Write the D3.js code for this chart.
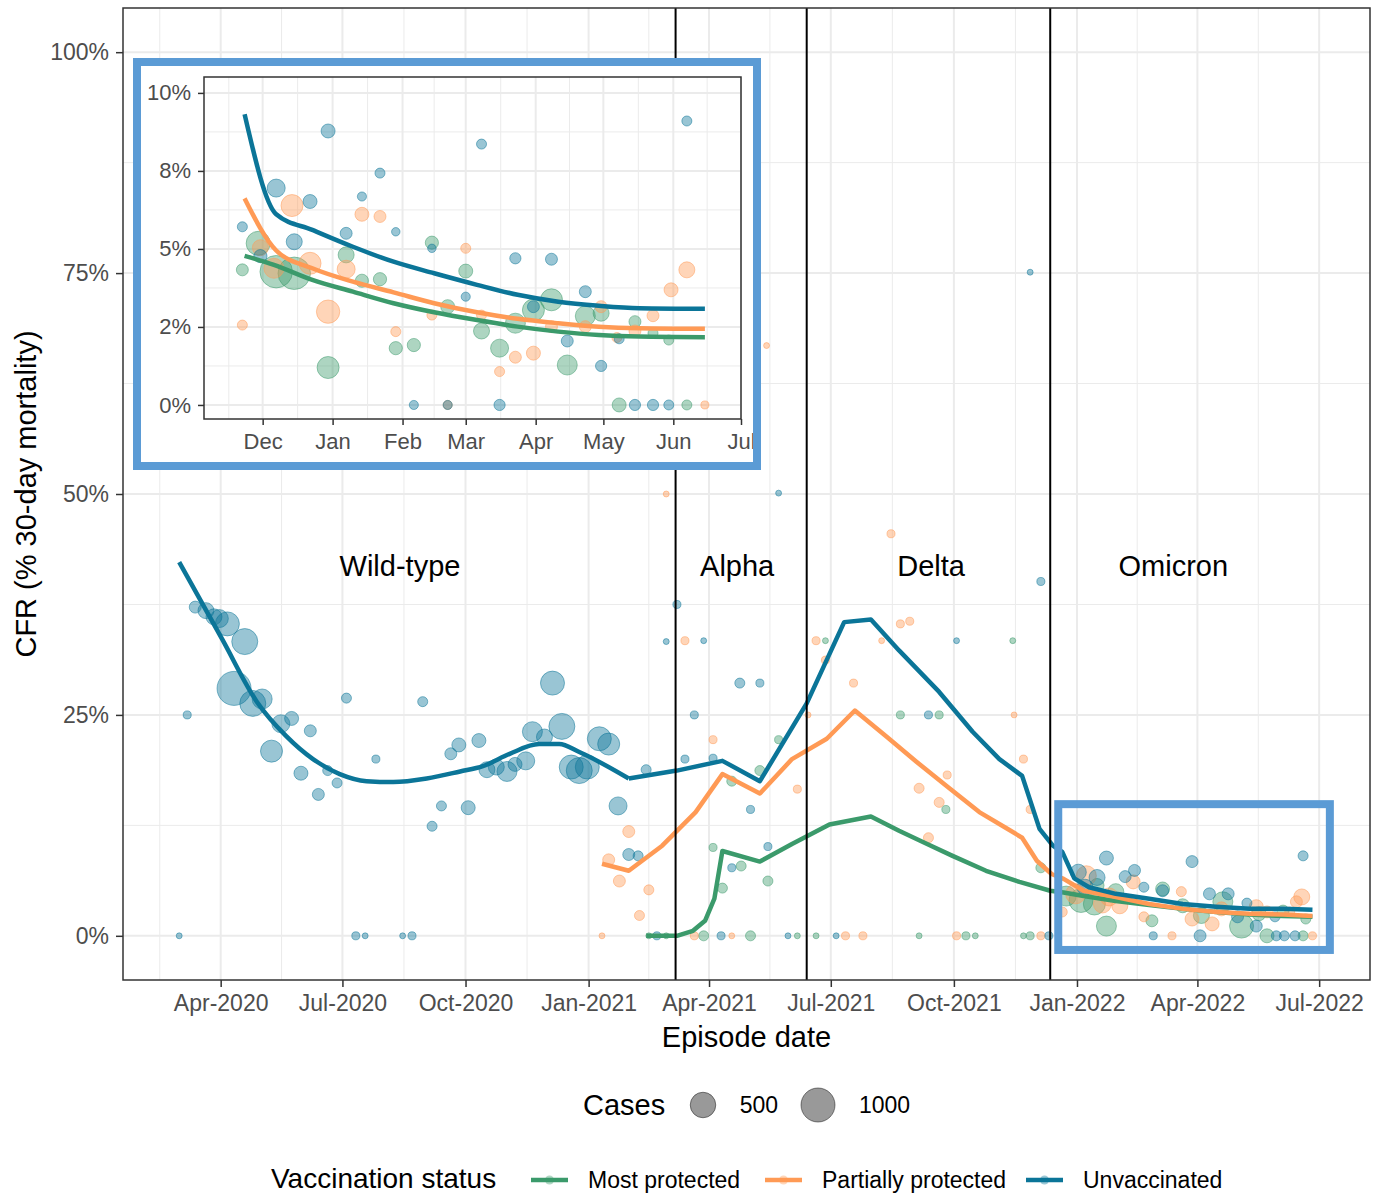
<!DOCTYPE html>
<html>
<head>
<meta charset="utf-8">
<script src="https://cdn.jsdelivr.net/npm/d3@7"></script>
<style>
  body { margin: 0; background: #fff; }
</style>
</head>
<body>
<script>
// ---- data ----
const statusNames = ['Most protected', 'Partially protected', 'Unvaccinated'];
const statusColors = ['#3b9a6b', '#ff9a55', '#0b7598'];

const variantNames = ['Wild-type', 'Alpha', 'Delta', 'Omicron'];
const variantLabelDates = ['2020-08-13', '2021-04-22', '2021-09-14', '2022-03-14'];
const variantLabelLevel = 41.9;
const variantStarts = ['2021-03-07', '2021-06-13', '2021-12-12'];

const mainXTicks = ['2020-04-01', '2020-07-01', '2020-10-01', '2021-01-01', '2021-04-01',
  '2021-07-01', '2021-10-01', '2022-01-01', '2022-04-01', '2022-07-01'];
const mainYTicks = [0, 25, 50, 75, 100];
const mainYTickLabels = ['0%', '25%', '50%', '75%', '100%'];

const insetXTicks = ['2021-12-01', '2022-01-01', '2022-02-01', '2022-03-01', '2022-04-01',
  '2022-05-01', '2022-06-01', '2022-07-01'];
const insetXTickLabels = ['Dec', 'Jan', 'Feb', 'Mar', 'Apr', 'May', 'Jun', 'Jul'];
const insetYTicks = [0, 2.5, 5, 7.5, 10];
const insetYTickLabels = ['0%', '2%', '5%', '8%', '10%'];

const caseLegendValues = [500, 1000];

// [episode date, CFR %, cases]
const mostPts = [
  ['2021-02-15', 0, 1], ['2021-02-28', 0, 1], ['2021-03-28', 0, 30], ['2021-04-04', 10.0, 11],
  ['2021-04-11', 5.4, 30], ['2021-04-18', 17.5, 30], ['2021-04-25', 7.9, 30], ['2021-05-02', 0, 30],
  ['2021-05-09', 18.7, 30], ['2021-05-15', 6.2, 30], ['2021-05-23', 22.2, 11], ['2021-06-06', 0, 1],
  ['2021-06-20', 0, 1], ['2021-06-27', 33.4, 1], ['2021-08-22', 25.0, 11], ['2021-09-05', 0, 1],
  ['2021-09-20', 25.0, 11], ['2021-09-25', 14.3, 11], ['2021-10-10', 0, 11], ['2021-10-17', 0, 1],
  ['2021-11-14', 33.4, 1], ['2021-11-22', 0, 1], ['2021-11-27', 0, 11], ['2021-12-05', 7.7, 30],
  ['2021-12-24', 4.5, 268], ['2022-01-04', 4.0, 429], ['2022-01-14', 3.6, 344], ['2022-01-16', 5.7, 96],
  ['2022-01-23', 1.1, 268], ['2022-01-30', 5.0, 144], ['2022-02-26', 1.7, 58], ['2022-03-06', 5.3, 96],
  ['2022-03-21', 3.4, 96], ['2022-04-04', 2.3, 144], ['2022-04-20', 3.85, 268], ['2022-05-04', 1.1, 429],
  ['2022-05-17', 2.5, 96], ['2022-05-23', 0, 96], ['2022-06-04', 2.8, 58], ['2022-06-19', 0, 30],
  ['2022-06-21', 1.9, 30]
];
const partialPts = [
  ['2021-01-11', 0, 1], ['2021-01-16', 8.6, 58], ['2021-01-24', 6.2, 58], ['2021-01-31', 11.8, 58],
  ['2021-02-08', 2.3, 30], ['2021-02-15', 5.2, 30], ['2021-02-28', 50.0, 1], ['2021-03-14', 33.4, 11],
  ['2021-03-21', 0, 11], ['2021-04-04', 22.2, 11], ['2021-04-18', 0, 1], ['2021-05-14', 66.8, 1],
  ['2021-06-06', 16.6, 11], ['2021-06-14', 25.0, 1], ['2021-06-20', 33.4, 11], ['2021-06-27', 31.2, 11],
  ['2021-07-12', 0, 11], ['2021-07-18', 28.6, 11], ['2021-07-25', 0, 11], ['2021-08-08', 33.4, 1],
  ['2021-08-15', 45.5, 11], ['2021-08-22', 35.3, 11], ['2021-08-29', 35.6, 11], ['2021-09-05', 16.7, 30],
  ['2021-09-12', 11.1, 30], ['2021-09-20', 15.1, 30], ['2021-09-26', 18.2, 11], ['2021-10-03', 0, 11],
  ['2021-11-15', 25.0, 1], ['2021-11-22', 20.0, 11], ['2021-11-27', 14.3, 11], ['2021-12-05', 0, 11],
  ['2021-12-21', 2.7, 30], ['2021-12-31', 4.75, 268], ['2022-01-08', 6.8, 268], ['2022-01-20', 3.6, 201],
  ['2022-01-25', 4.4, 201], ['2022-02-02', 3.4, 144], ['2022-02-12', 6.1, 96], ['2022-02-20', 2.15, 30],
  ['2022-03-13', 0, 11], ['2022-03-20', 5.0, 30], ['2022-03-28', 1.9, 96], ['2022-04-12', 1.35, 96],
  ['2022-04-19', 3.05, 96], ['2022-05-15', 3.3, 96], ['2022-05-23', 2.7, 58], ['2022-06-09', 2.7, 30],
  ['2022-06-14', 3.85, 58], ['2022-06-18', 4.4, 144], ['2022-06-26', 0, 11]
];
const unvaxPts = [
  ['2020-03-01', 0, 1], ['2020-03-07', 25.0, 11], ['2020-03-13', 37.2, 58], ['2020-03-21', 36.8, 144],
  ['2020-03-27', 36.1, 144], ['2020-03-31', 35.9, 201], ['2020-04-06', 35.3, 429], ['2020-04-19', 33.3, 524],
  ['2020-04-11', 28.0, 1000], ['2020-04-25', 26.3, 524], ['2020-05-02', 26.8, 268], ['2020-05-09', 20.9, 344],
  ['2020-05-16', 24.0, 201], ['2020-05-24', 24.6, 96], ['2020-06-07', 23.2, 58], ['2020-05-31', 18.4, 96],
  ['2020-06-20', 18.7, 30], ['2020-06-27', 17.3, 30], ['2020-06-13', 16.0, 58], ['2020-07-04', 26.9, 30],
  ['2020-07-26', 20.0, 11], ['2020-07-11', 0, 11], ['2020-07-18', 0, 1], ['2020-08-15', 0, 1],
  ['2020-08-22', 0, 11], ['2020-08-30', 26.5, 30], ['2020-09-13', 14.7, 30], ['2020-09-06', 12.4, 30],
  ['2020-09-20', 20.6, 58], ['2020-09-26', 21.6, 96], ['2020-10-11', 22.1, 96], ['2020-10-03', 14.5, 96],
  ['2020-10-17', 18.8, 144], ['2020-10-24', 19.1, 144], ['2020-11-01', 18.6, 268], ['2020-11-07', 19.4, 96],
  ['2020-11-15', 19.8, 201], ['2020-11-20', 23.1, 268], ['2020-11-29', 22.5, 144], ['2020-12-05', 28.6, 429],
  ['2020-12-12', 23.7, 524], ['2020-12-19', 19.1, 429], ['2020-12-25', 18.7, 524], ['2020-12-31', 19.1, 429],
  ['2021-01-09', 22.3, 429], ['2021-01-16', 21.7, 344], ['2021-01-23', 14.7, 201], ['2021-01-31', 9.2, 58],
  ['2021-02-07', 9.05, 30], ['2021-02-13', 18.8, 30], ['2021-02-21', 0, 11], ['2021-02-28', 33.3, 1],
  ['2021-03-08', 37.5, 11], ['2021-03-14', 20.0, 11], ['2021-03-21', 25.0, 11], ['2021-03-28', 33.4, 1],
  ['2021-04-04', 20.1, 11], ['2021-04-10', 0, 11], ['2021-04-18', 7.7, 11], ['2021-04-24', 28.6, 30],
  ['2021-05-02', 14.3, 11], ['2021-05-09', 28.6, 11], ['2021-05-15', 10.1, 11], ['2021-05-23', 50.1, 1],
  ['2021-05-30', 0, 1], ['2021-07-05', 0, 1], ['2021-09-12', 25.0, 11], ['2021-10-03', 33.4, 1],
  ['2021-11-27', 75.1, 1], ['2021-12-05', 40.1, 11], ['2021-12-11', 0, 11],
  ['2022-01-02', 7.2, 144], ['2022-01-07', 5.5, 144], ['2022-01-16', 6.6, 144], ['2022-01-23', 8.8, 96],
  ['2022-02-06', 6.7, 58], ['2022-02-13', 7.4, 58], ['2022-02-20', 5.5, 30], ['2022-02-27', 0, 11],
  ['2022-03-06', 5.1, 58], ['2022-03-28', 8.4, 58], ['2022-04-03', 0, 58], ['2022-04-10', 4.75, 58],
  ['2022-04-24', 4.75, 58], ['2022-05-01', 2.15, 58], ['2022-05-08', 3.7, 30], ['2022-05-15', 1.1, 58],
  ['2022-05-29', 2.15, 30], ['2022-05-30', 0, 30], ['2022-06-05', 0, 30], ['2022-06-13', 0, 30],
  ['2022-06-19', 9.05, 30]
];

// fitted lines [date, CFR %]
const mostLine = [
  ['2021-02-13', 0], ['2021-03-08', 0], ['2021-03-20', 0.57], ['2021-03-29', 1.7], ['2021-04-05', 4.2],
  ['2021-04-11', 9.6], ['2021-05-09', 8.4], ['2021-06-02', 10.4], ['2021-06-30', 12.6], ['2021-07-31', 13.5],
  ['2021-08-21', 11.9], ['2021-09-11', 10.4], ['2021-09-30', 9.05], ['2021-10-25', 7.36], ['2021-11-19', 6.1],
  ['2021-12-12', 5.1], ['2021-12-22', 4.9], ['2022-01-06', 4.5], ['2022-01-30', 3.95], ['2022-02-24', 3.5],
  ['2022-03-21', 3.05], ['2022-04-15', 2.7], ['2022-05-10', 2.4], ['2022-06-04', 2.25], ['2022-06-26', 2.15]
];
const partialLine = [
  ['2021-01-11', 8.15], ['2021-01-31', 7.36], ['2021-02-25', 10.2], ['2021-03-22', 14.0], ['2021-04-11', 18.3],
  ['2021-05-09', 16.1], ['2021-06-02', 20.0], ['2021-06-28', 22.3], ['2021-07-19', 25.5], ['2021-08-12', 22.5],
  ['2021-09-03', 19.7], ['2021-09-26', 16.9], ['2021-10-20', 14.0], ['2021-11-09', 12.2], ['2021-11-21', 11.1],
  ['2021-12-02', 8.5], ['2021-12-13', 7.0], ['2021-12-22', 6.45], ['2022-01-06', 5.1], ['2022-01-30', 4.4],
  ['2022-02-24', 3.6], ['2022-03-21', 3.05], ['2022-04-15', 2.7], ['2022-05-10', 2.5], ['2022-06-04', 2.4],
  ['2022-06-26', 2.25]
];
const unvaxLine = [
  ['2020-03-01', 42.3], ['2020-03-08', 40.4], ['2020-04-02', 33.6], ['2020-04-28', 26.5], ['2020-05-20', 22.6],
  ['2020-06-09', 20.0], ['2020-06-29', 18.3], ['2020-07-19', 17.5], ['2020-08-08', 17.4], ['2020-09-02', 17.8],
  ['2020-09-27', 18.6], ['2020-10-14', 19.2], ['2020-11-03', 20.6], ['2020-11-25', 21.7], ['2020-12-10', 21.7],
  ['2020-12-25', 20.8], ['2021-01-31', 17.8], ['2021-03-08', 18.7], ['2021-04-11', 19.8], ['2021-05-09', 17.5],
  ['2021-06-13', 26.3], ['2021-07-11', 35.5], ['2021-07-31', 35.8], ['2021-08-21', 32.3], ['2021-09-20', 27.6],
  ['2021-10-15', 23.1], ['2021-11-04', 20.0], ['2021-11-21', 18.1], ['2021-12-04', 12.1], ['2021-12-14', 10.2],
  ['2021-12-21', 9.5], ['2021-12-30', 6.5], ['2022-01-10', 5.5], ['2022-01-30', 4.75], ['2022-02-24', 4.2],
  ['2022-03-21', 3.6], ['2022-04-15', 3.3], ['2022-05-10', 3.05], ['2022-06-04', 3.05], ['2022-06-26', 2.95]
];
// the wild-type part of the unvaccinated fit is a smooth curve up to this date
const unvaxSmoothUntil = '2021-01-31';

// inset (Omicron period)
const insetMostPts = [
  ['2021-11-29', 5.18, 429], ['2021-11-22', 4.33, 58], ['2021-12-07', 4.27, 900], ['2021-12-15', 4.22, 900],
  ['2022-01-07', 4.81, 144], ['2022-01-14', 3.98, 80], ['2022-01-22', 4.03, 80], ['2021-12-30', 1.2, 344],
  ['2022-01-29', 1.82, 80], ['2022-02-06', 1.92, 80], ['2022-02-14', 5.2, 80], ['2022-02-21', 3.15, 96],
  ['2022-03-01', 4.29, 96], ['2022-03-08', 2.37, 144], ['2022-03-16', 1.82, 201], ['2022-03-23', 2.62, 268],
  ['2022-03-31', 3.04, 344], ['2022-04-08', 3.37, 344], ['2022-04-15', 1.28, 268], ['2022-04-23', 2.85, 268],
  ['2022-04-30', 2.94, 144], ['2022-05-15', 2.67, 58], ['2022-05-23', 2.3, 30], ['2022-05-30', 2.08, 30],
  ['2022-05-08', 0, 96], ['2022-06-07', 0, 30]
];
const insetPartialPts = [
  ['2021-12-14', 6.39, 344], ['2022-01-14', 6.11, 96], ['2022-01-22', 6.04, 58], ['2021-11-30', 5.04, 144],
  ['2021-12-22', 4.54, 344], ['2022-01-07', 4.35, 201], ['2021-12-06', 4.38, 268], ['2021-12-30', 2.99, 400],
  ['2021-11-22', 2.56, 30], ['2022-03-01', 5.02, 30], ['2022-02-14', 2.88, 30], ['2022-01-29', 2.35, 30],
  ['2022-03-08', 2.88, 30], ['2022-03-23', 1.53, 58], ['2022-03-31', 1.66, 96], ['2022-03-16', 1.07, 30],
  ['2022-04-08', 2.51, 58], ['2022-04-23', 2.51, 58], ['2022-04-30', 3.15, 58], ['2022-05-07', 2.16, 30],
  ['2022-05-15', 2.37, 58], ['2022-05-23', 2.86, 58], ['2022-05-31', 3.69, 96], ['2022-06-07', 4.33, 144],
  ['2022-06-15', 0, 11], ['2022-02-21', 0, 20]
];
const insetUnvaxPts = [
  ['2021-12-30', 8.78, 96], ['2022-03-08', 8.36, 30], ['2022-06-07', 9.1, 30], ['2022-01-22', 7.43, 30],
  ['2022-01-14', 6.68, 20], ['2021-12-22', 6.52, 96], ['2021-12-07', 6.95, 201], ['2021-11-22', 5.71, 30],
  ['2021-12-15', 5.23, 144], ['2022-01-07', 5.5, 58], ['2022-01-29', 5.55, 14], ['2021-11-30', 4.77, 80],
  ['2022-02-14', 5.02, 14], ['2022-03-23', 4.70, 46], ['2022-04-08', 4.67, 58], ['2022-03-01', 3.47, 20],
  ['2022-04-23', 3.63, 58], ['2022-03-31', 3.15, 58], ['2022-04-15', 2.05, 58], ['2022-05-08', 2.12, 30],
  ['2022-04-30', 1.25, 46], ['2022-02-06', 0, 20], ['2022-02-21', 0, 20], ['2022-03-16', 0, 46],
  ['2022-05-15', 0, 46], ['2022-05-23', 0, 46], ['2022-05-30', 0, 30]
];
const insetMostLine = [
  ['2021-11-23', 4.78], ['2021-12-06', 4.49], ['2021-12-23', 4.01], ['2022-01-10', 3.63], ['2022-01-28', 3.26],
  ['2022-02-15', 2.97], ['2022-03-06', 2.72], ['2022-03-24', 2.51], ['2022-04-11', 2.35], ['2022-04-29', 2.24],
  ['2022-05-17', 2.19], ['2022-06-15', 2.17]
];
const insetPartialLine = [
  ['2021-11-23', 6.62], ['2021-12-07', 4.95], ['2021-12-23', 4.38], ['2022-01-10', 3.95], ['2022-01-28', 3.61],
  ['2022-02-15', 3.26], ['2022-03-06', 2.97], ['2022-03-24', 2.76], ['2022-04-11', 2.62], ['2022-04-29', 2.51],
  ['2022-05-17', 2.46], ['2022-06-15', 2.44]
];
const insetUnvaxLine = [
  ['2021-11-23', 9.32], ['2021-12-07', 6.11], ['2021-12-23', 5.61], ['2022-01-10', 5.07], ['2022-01-28', 4.59],
  ['2022-02-15', 4.22], ['2022-03-06', 3.85], ['2022-03-24', 3.53], ['2022-04-11', 3.31], ['2022-04-29', 3.18],
  ['2022-05-17', 3.1], ['2022-06-15', 3.08]
];

// highlighted Omicron window in the main panel
const highlightDates = ['2021-12-18', '2022-07-09'];
const highlightLevels = [-1.6, 14.9];

// ---- layout ----
const FONT = '"Liberation Sans", Arial, sans-serif';
const width = 1380, height = 1194;
const boxBlue = '#5b9bd5';
const parse = d3.timeParse('%Y-%m-%d');
const main = {left: 123, right: 1370, top: 8, bottom: 980};
const ins = {left: 204, right: 741, top: 77, bottom: 419};

const x = d3.scaleTime()
  .domain([parse('2020-01-19'), parse('2022-08-08')])
  .range([main.left, main.right]);
const y = d3.scaleLinear().domain([-5, 105]).range([main.bottom, main.top]);
const r = d3.scaleSqrt().domain([0, 1000]).range([2.5, 17]);

const xi = d3.scaleTime()
  .domain([parse('2021-11-05'), parse('2022-07-01')])
  .range([ins.left, ins.right]);
const yi = d3.scaleLinear().domain([-0.45, 10.51]).range([ins.bottom, ins.top]);

const svg = d3.select('body').append('svg')
  .attr('width', width).attr('height', height)
  .style('font-family', FONT);

function midpoints(vals, before) {
  const out = [];
  const all = [before].concat(vals);
  for (let i = 1; i < all.length; i++) out.push((all[i - 1] + all[i]) / 2);
  return out;
}

function drawGrid(g, xs, ys, xMajor, xMinor, yMajor, yMinor, box) {
  const grid = g.append('g');
  const add = (vals, vertical, w) => grid.selectAll(null).data(vals).join('line')
    .attr('x1', d => vertical ? xs(d) : box.left)
    .attr('x2', d => vertical ? xs(d) : box.right)
    .attr('y1', d => vertical ? box.top : ys(d))
    .attr('y2', d => vertical ? box.bottom : ys(d))
    .attr('stroke', '#ebebeb').attr('stroke-width', w);
  add(xMinor, true, 1); add(yMinor, false, 1);
  add(xMajor, true, 2); add(yMajor, false, 2);
}

function drawPoints(g, pts, color, xs, ys) {
  g.append('g').selectAll('circle').data(pts).join('circle')
    .attr('cx', d => xs(parse(d[0])))
    .attr('cy', d => ys(d[1]))
    .attr('r', d => r(d[2]))
    .attr('fill', color).attr('fill-opacity', 0.42)
    .attr('stroke', color).attr('stroke-opacity', 0.5).attr('stroke-width', 1);
}

function drawLine(g, pts, color, xs, ys, curve) {
  const line = d3.line()
    .x(d => xs(parse(d[0])))
    .y(d => ys(d[1]))
    .curve(curve);
  g.append('path').datum(pts)
    .attr('d', line)
    .attr('fill', 'none')
    .attr('stroke', color)
    .attr('stroke-width', 4.5)
    .attr('stroke-linejoin', 'round');
}

function styleAxis(g, size) {
  g.attr('font-family', FONT).attr('font-size', size);
  g.select('.domain').remove();
  g.selectAll('.tick line').attr('stroke', '#333').attr('stroke-width', 1.5);
  g.selectAll('.tick text').attr('fill', '#4d4d4d');
}

// ---- main panel ----
const mainXMajor = mainXTicks.map(parse);
const mainXMinor = midpoints(mainXMajor.map(d => +d), +parse('2020-01-01')).map(v => new Date(v));
const mainYMinor = midpoints(mainYTicks, -25).filter(v => v > -5);
const $main = svg.append('g');
drawGrid($main, x, y, mainXMajor, mainXMinor, mainYTicks, mainYMinor, main);

const pointSets = [mostPts, partialPts, unvaxPts];
pointSets.forEach((pts, i) => drawPoints($main, pts, statusColors[i], x, y));

drawLine($main, mostLine, statusColors[0], x, y, d3.curveLinear);
drawLine($main, partialLine, statusColors[1], x, y, d3.curveLinear);
const cut = parse(unvaxSmoothUntil);
drawLine($main, unvaxLine.filter(d => parse(d[0]) <= cut), statusColors[2], x, y, d3.curveMonotoneX);
drawLine($main, unvaxLine.filter(d => parse(d[0]) >= cut), statusColors[2], x, y, d3.curveLinear);

$main.append('g').selectAll('line').data(variantStarts).join('line')
  .attr('x1', d => x(parse(d))).attr('x2', d => x(parse(d)))
  .attr('y1', main.top).attr('y2', main.bottom)
  .attr('stroke', '#000').attr('stroke-width', 2);

$main.append('g').selectAll('text').data(variantNames).join('text')
  .attr('x', (d, i) => x(parse(variantLabelDates[i])))
  .attr('y', y(variantLabelLevel) + 10)
  .attr('text-anchor', 'middle')
  .attr('font-size', 29)
  .attr('fill', '#000')
  .text(d => d);

$main.append('rect')
  .attr('x', main.left).attr('y', main.top)
  .attr('width', main.right - main.left).attr('height', main.bottom - main.top)
  .attr('fill', 'none').attr('stroke', '#333').attr('stroke-width', 1.5);

svg.append('g').attr('transform', `translate(0,${main.bottom})`)
  .call(d3.axisBottom(x).tickValues(mainXMajor).tickFormat(d3.timeFormat('%b-%Y'))
    .tickSize(7).tickPadding(8))
  .call(g => styleAxis(g, 23));

svg.append('g').attr('transform', `translate(${main.left},0)`)
  .call(d3.axisLeft(y).tickValues(mainYTicks).tickFormat((d, i) => mainYTickLabels[i])
    .tickSize(7).tickPadding(7))
  .call(g => styleAxis(g, 23));

svg.append('text')
  .attr('x', (main.left + main.right) / 2).attr('y', 1047)
  .attr('text-anchor', 'middle').attr('font-size', 29)
  .text('Episode date');

svg.append('text')
  .attr('transform', `translate(36,${(main.top + main.bottom) / 2}) rotate(-90)`)
  .attr('text-anchor', 'middle').attr('font-size', 29)
  .text('CFR (% 30-day mortality)');

// highlighted Omicron window
svg.append('rect')
  .attr('x', x(parse(highlightDates[0])))
  .attr('y', y(highlightLevels[1]))
  .attr('width', x(parse(highlightDates[1])) - x(parse(highlightDates[0])))
  .attr('height', y(highlightLevels[0]) - y(highlightLevels[1]))
  .attr('fill', 'none').attr('stroke', boxBlue).attr('stroke-width', 8);

// ---- inset ----
const frame = {left: 137, top: 62, right: 757, bottom: 466};
const $inset = svg.append('g');
$inset.append('rect')
  .attr('x', frame.left).attr('y', frame.top)
  .attr('width', frame.right - frame.left).attr('height', frame.bottom - frame.top)
  .attr('fill', '#fff');

const insetXMajor = insetXTicks.map(parse);
const insetXMinor = midpoints(insetXMajor.map(d => +d), +parse('2021-11-01')).map(v => new Date(v));
const insetYMinor = midpoints(insetYTicks, -2.5).filter(v => v > -0.45);
drawGrid($inset, xi, yi, insetXMajor, insetXMinor, insetYTicks, insetYMinor, ins);

[insetMostPts, insetPartialPts, insetUnvaxPts].forEach((pts, i) => drawPoints($inset, pts, statusColors[i], xi, yi));
[insetMostLine, insetPartialLine, insetUnvaxLine].forEach((pts, i) =>
  drawLine($inset, pts, statusColors[i], xi, yi, d3.curveMonotoneX));

$inset.append('rect')
  .attr('x', ins.left).attr('y', ins.top)
  .attr('width', ins.right - ins.left).attr('height', ins.bottom - ins.top)
  .attr('fill', 'none').attr('stroke', '#333').attr('stroke-width', 1.5);

$inset.append('g').attr('transform', `translate(0,${ins.bottom})`)
  .call(d3.axisBottom(xi).tickValues(insetXMajor).tickFormat((d, i) => insetXTickLabels[i])
    .tickSize(6).tickPadding(8))
  .call(g => styleAxis(g, 22));

$inset.append('g').attr('transform', `translate(${ins.left},0)`)
  .call(d3.axisLeft(yi).tickValues(insetYTicks).tickFormat((d, i) => insetYTickLabels[i])
    .tickSize(6).tickPadding(7))
  .call(g => styleAxis(g, 22));

$inset.append('rect')
  .attr('x', frame.left).attr('y', frame.top)
  .attr('width', frame.right - frame.left).attr('height', frame.bottom - frame.top)
  .attr('fill', 'none').attr('stroke', boxBlue).attr('stroke-width', 8);

// ---- legends ----
const $cases = svg.append('g');
$cases.append('text').attr('x', 583).attr('y', 1115).attr('font-size', 29).text('Cases');
const caseX = [703, 818];
caseLegendValues.forEach((v, i) => {
  $cases.append('circle')
    .attr('cx', caseX[i]).attr('cy', 1105).attr('r', r(v))
    .attr('fill', '#000').attr('fill-opacity', 0.4)
    .attr('stroke', '#000').attr('stroke-opacity', 0.45);
  $cases.append('text')
    .attr('x', caseX[i] + r(v) + 24).attr('y', 1113)
    .attr('font-size', 23).text(v);
});

const $status = svg.append('g');
$status.append('text').attr('x', 271).attr('y', 1188).attr('font-size', 28).text('Vaccination status');
const keyX = [531, 765, 1026];
statusNames.forEach((name, i) => {
  $status.append('line')
    .attr('x1', keyX[i]).attr('x2', keyX[i] + 37)
    .attr('y1', 1180).attr('y2', 1180)
    .attr('stroke', statusColors[i]).attr('stroke-width', 4.5);
  $status.append('circle')
    .attr('cx', keyX[i] + 18.5).attr('cy', 1180).attr('r', 4.5)
    .attr('fill', statusColors[i]).attr('fill-opacity', 0.4);
  $status.append('text')
    .attr('x', keyX[i] + 57).attr('y', 1188)
    .attr('font-size', 23).text(name);
});
</script>
</body>
</html>
